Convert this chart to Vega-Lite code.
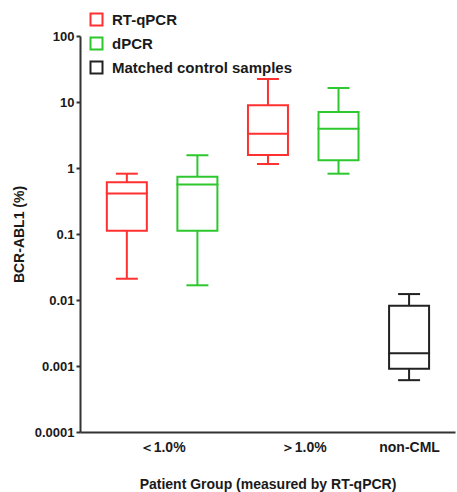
{
  "$schema": "https://vega.github.io/schema/vega-lite/v6.json",
  "autosize": "none",
  "width": 375,
  "height": 396,
  "padding": {"left": 80, "top": 36, "right": 2, "bottom": 60},
  "background": "white",
  "config": {
    "view": {"stroke": null},
    "font": "Liberation Sans",
    "axis": {"grid": false, "domainColor": "#333333", "domainWidth": 2, "tickColor": "#333333", "tickWidth": 2, "labelFont": "Liberation Sans", "labelFontWeight": "bold", "labelColor": "#1a1a1a", "titleFont": "Liberation Sans", "titleFontWeight": "bold", "titleColor": "#1a1a1a"}
  },
  "data": {"values": [
    {"pos": 1, "group": "<1.0%", "method": "RT-qPCR", "min": 0.021, "q1": 0.112, "median": 0.41, "q3": 0.61, "max": 0.82},
    {"pos": 2, "group": "<1.0%", "method": "dPCR", "min": 0.0167, "q1": 0.112, "median": 0.56, "q3": 0.74, "max": 1.56},
    {"pos": 3, "group": ">1.0%", "method": "RT-qPCR", "min": 1.15, "q1": 1.57, "median": 3.3, "q3": 8.9, "max": 22.3},
    {"pos": 4, "group": ">1.0%", "method": "dPCR", "min": 0.82, "q1": 1.31, "median": 3.94, "q3": 7.05, "max": 16.3},
    {"pos": 5, "group": "non-CML", "method": "Matched control samples", "min": 0.00061, "q1": 0.00091, "median": 0.00156, "q3": 0.0082, "max": 0.0123}
  ]},
  "encoding": {
    "x": {"field": "pos", "type": "quantitative", "scale": {"domain": [0.407, 5.58], "nice": false, "zero": false},
      "axis": {"values": [1.5, 3.5, 5], "ticks": false, "labelFontSize": 14, "labelPadding": 8, "labelExpr": "datum.value == 1.5 ? '＜1.0%' : datum.value == 3.5 ? '＞1.0%' : 'non-CML'", "title": "Patient Group (measured by RT-qPCR)", "titleFontSize": 14, "titlePadding": 23}},
    "stroke": {"field": "method", "type": "nominal", "scale": {"domain": ["RT-qPCR", "dPCR", "Matched control samples"], "range": ["#ff3030", "#2ec82e", "#222222"]},
      "legend": {"title": null, "orient": "none", "legendX": 9, "legendY": -24, "padding": 0, "symbolType": "square", "symbolSize": 144, "symbolStrokeWidth": 2, "symbolFillColor": "white", "labelFontSize": 15, "labelFontWeight": "bold", "labelFont": "Liberation Sans", "labelColor": "#1a1a1a", "labelOffset": 8, "labelLimit": 400, "rowPadding": 3}}
  },
  "layer": [
    {"mark": {"type": "rule", "strokeWidth": 2}, "encoding": {"y": {"field": "min", "type": "quantitative", "scale": {"type": "log", "domain": [0.0001, 100]},
      "axis": {"values": [0.0001, 0.001, 0.01, 0.1, 1, 10, 100], "labelExpr": "'' + datum.value", "labelFontSize": 13, "tickSize": 4, "labelPadding": 2, "title": "BCR-ABL1 (%)", "titleFontSize": 14, "titlePadding": 8}}, "y2": {"field": "q1"}}},
    {"mark": {"type": "rule", "strokeWidth": 2}, "encoding": {"y": {"field": "q3", "type": "quantitative"}, "y2": {"field": "max"}}},
    {"mark": {"type": "bar", "size": 40, "fill": "white", "strokeWidth": 2}, "encoding": {"y": {"field": "q1", "type": "quantitative"}, "y2": {"field": "q3"}}},
    {"mark": {"type": "tick", "orient": "horizontal", "size": 40, "thickness": 0.01, "strokeWidth": 2, "filled": false, "opacity": 1}, "encoding": {"y": {"field": "median", "type": "quantitative"}}},
    {"mark": {"type": "tick", "orient": "horizontal", "size": 20, "thickness": 0.01, "strokeWidth": 2, "filled": false, "opacity": 1}, "encoding": {"y": {"field": "min", "type": "quantitative"}}},
    {"mark": {"type": "tick", "orient": "horizontal", "size": 20, "thickness": 0.01, "strokeWidth": 2, "filled": false, "opacity": 1}, "encoding": {"y": {"field": "max", "type": "quantitative"}}}
  ]
}
